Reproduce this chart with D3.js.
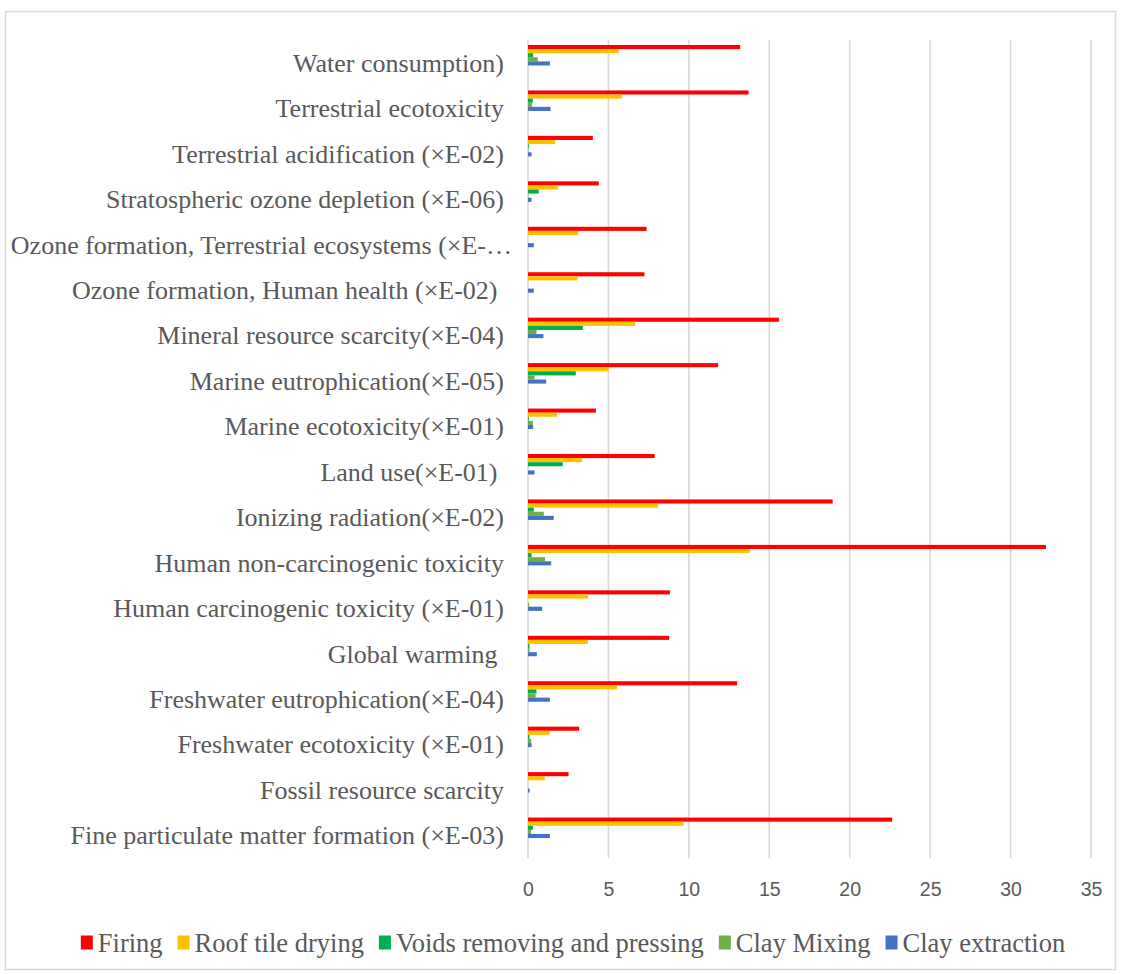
<!DOCTYPE html>
<html>
<head>
<meta charset="utf-8">
<script src="https://cdn.jsdelivr.net/npm/d3@7"></script>
<style>
  html, body { margin: 0; padding: 0; background: #fff; }
  svg { display: block; }
  .cat text, .legend text { white-space: pre; }
</style>
</head>
<body>
<svg id="chart" width="1121" height="974"></svg>
<script>
// Impact categories, listed top to bottom
const categories = [
  "Water consumption)",
  "Terrestrial ecotoxicity",
  "Terrestrial acidification (×E-02)",
  "Stratospheric ozone depletion (×E-06)",
  "Ozone formation, Terrestrial ecosystems (×E-…",
  "Ozone formation, Human health (×E-02) ",
  "Mineral resource scarcity(×E-04)",
  "Marine eutrophication(×E-05)",
  "Marine ecotoxicity(×E-01)",
  "Land use(×E-01) ",
  "Ionizing radiation(×E-02)",
  "Human non-carcinogenic toxicity",
  "Human carcinogenic toxicity (×E-01)",
  "Global warming ",
  "Freshwater eutrophication(×E-04)",
  "Freshwater ecotoxicity (×E-01)",
  "Fossil resource scarcity",
  "Fine particulate matter formation (×E-03)"
];

// Process stages (legend order)
const seriesNames = ["Firing", "Roof tile drying", "Voids removing and pressing", "Clay Mixing", "Clay extraction"];
const seriesColors = ["#FF0000", "#FFC000", "#00B050", "#70AD47", "#4472C4"];

// Values per stage, same order as categories
const firing = [13.19, 13.71, 4.03, 4.40, 7.37, 7.24, 15.60, 11.82, 4.22, 7.87, 18.94, 32.20, 8.82, 8.78, 13.00, 3.18, 2.52, 22.64];
const roofTileDrying = [5.63, 5.83, 1.69, 1.85, 3.12, 3.08, 6.66, 5.02, 1.79, 3.35, 8.09, 13.78, 3.74, 3.72, 5.54, 1.34, 1.04, 9.67];
const voidsRemoving = [0.32, 0.30, 0.05, 0.67, 0.00, 0.00, 3.41, 2.97, 0.05, 2.16, 0.36, 0.22, 0.00, 0.09, 0.53, 0.09, 0.00, 0.30];
const clayMixing = [0.61, 0.24, 0.02, 0.02, 0.00, 0.00, 0.53, 0.40, 0.30, 0.00, 0.98, 1.06, 0.07, 0.09, 0.47, 0.19, 0.00, 0.19];
const clayExtraction = [1.36, 1.40, 0.22, 0.22, 0.36, 0.36, 0.96, 1.13, 0.32, 0.40, 1.60, 1.44, 0.88, 0.55, 1.36, 0.22, 0.10, 1.36];

const xTicks = [0, 5, 10, 15, 20, 25, 30, 35];

const seriesValues = [firing, roofTileDrying, voidsRemoving, clayMixing, clayExtraction];

const svg = d3.select("#chart");
const plot = { left: 528, right: 1091, top: 40, bottom: 858 };

// Outer frame
svg.append("rect")
  .attr("x", 5.5).attr("y", 11.5)
  .attr("width", 1110).attr("height", 958)
  .attr("fill", "#fff")
  .attr("stroke", "#d9d9d9").attr("stroke-width", 1.5);

const x = d3.scaleLinear().domain([0, 35]).range([plot.left, plot.right]);
const y = d3.scaleBand().domain(categories).range([plot.top, plot.bottom]).paddingInner(0).paddingOuter(0);

// Bars of one group sit in the upper part of each band
const groupStart = y.bandwidth() * 0.11;
const y1 = d3.scaleBand().domain(seriesNames).range([groupStart, groupStart + 20.5]);

// Vertical gridlines
svg.append("g").selectAll("line")
  .data(xTicks)
  .join("line")
  .attr("x1", d => x(d)).attr("x2", d => x(d))
  .attr("y1", plot.top).attr("y2", plot.bottom)
  .attr("stroke", "#d9d9d9").attr("stroke-width", 1.6);

// X axis tick labels
const xAxis = d3.axisBottom(x).tickValues(xTicks).tickSize(0).tickPadding(0).tickFormat(d3.format("d"));
const gx = svg.append("g").attr("transform", `translate(0,${plot.bottom})`).call(xAxis);
gx.select(".domain").remove();
gx.selectAll("text")
  .attr("y", 31)
  .attr("dy", "0.35em")
  .attr("fill", "#595959")
  .style("font-family", "'Liberation Sans', Arial, sans-serif")
  .style("font-size", "19.5px");

// Bars
const groups = svg.append("g").selectAll("g")
  .data(categories)
  .join("g")
  .attr("transform", d => `translate(0,${y(d)})`);

groups.selectAll("rect")
  .data((c, ci) => seriesNames.map((s, si) => ({ s, si, v: seriesValues[si][ci] })))
  .join("rect")
  .attr("x", x(0))
  .attr("y", d => y1(d.s))
  .attr("width", d => x(d.v) - x(0))
  .attr("height", y1.bandwidth())
  .attr("fill", d => seriesColors[d.si]);

// Category labels (a truncated label runs slightly past the others)
const gy = svg.append("g").attr("class", "cat");
gy.selectAll("text")
  .data(categories)
  .join("text")
  .attr("x", d => d.endsWith("…") ? 512 : 504)
  .attr("y", d => y(d) + y.bandwidth() / 2)
  .attr("dy", "0.35em")
  .attr("text-anchor", "end")
  .attr("fill", "#595959")
  .style("font-family", "'Liberation Serif', 'Times New Roman', serif")
  .style("font-size", "26px")
  .text(d => d);

// Legend
const legend = svg.append("g").attr("class", "legend");
const items = legend.selectAll("g").data(seriesNames).join("g");
items.append("rect")
  .attr("width", 12).attr("height", 14)
  .attr("y", -7.5)
  .attr("fill", (d, i) => seriesColors[i]);
items.append("text")
  .attr("x", 17)
  .attr("dy", "0.35em")
  .attr("fill", "#595959")
  .style("font-family", "'Liberation Serif', 'Times New Roman', serif")
  .style("font-size", "26.5px")
  .text(d => d);

let cursor = 0;
const offsets = [];
items.each(function () {
  const w = 17 + this.querySelector("text").getComputedTextLength();
  offsets.push(cursor);
  cursor += w + 15;
});
const totalW = cursor - 15;
const legendCx = 573;
items.attr("transform", (d, i) => `translate(${legendCx - totalW / 2 + offsets[i]},943)`);
</script>
</body>
</html>
